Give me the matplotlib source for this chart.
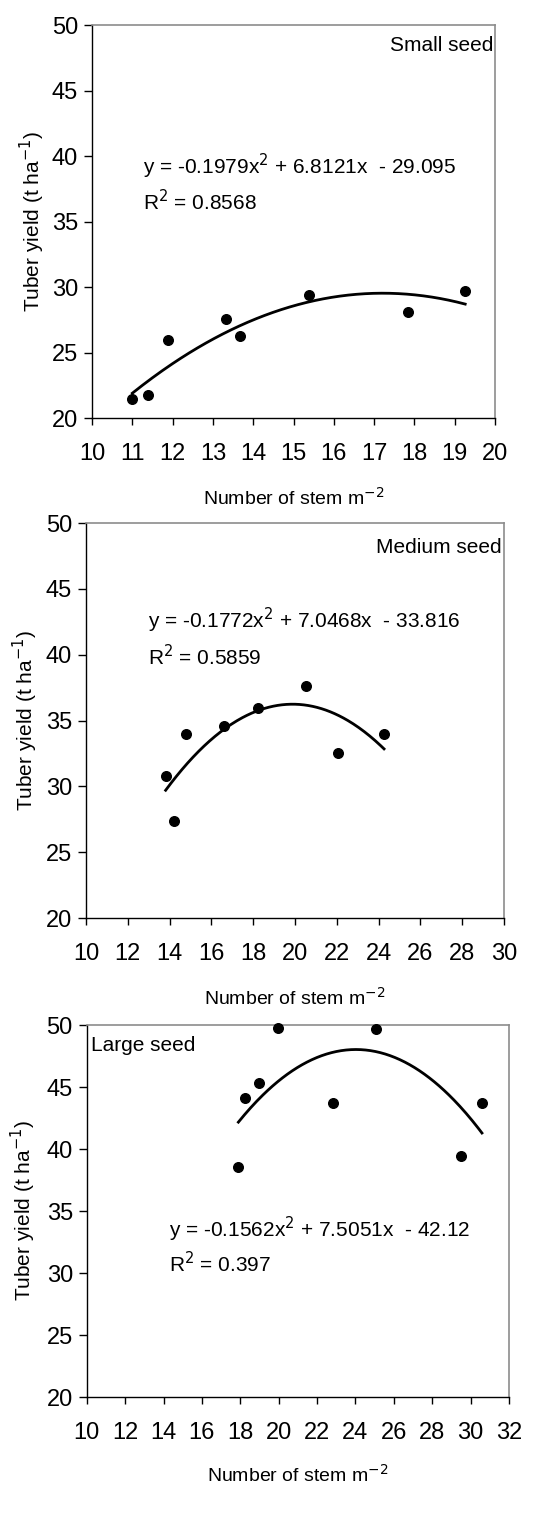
import numpy as np
import matplotlib
matplotlib.use("Agg")
import matplotlib.pyplot as plt

plt.rcParams['font.family'] = ['Liberation Sans', 'DejaVu Sans']

# ---- data ----
small_x = [11.0, 11.4, 11.88, 13.33, 13.68, 15.39, 17.84, 19.26]
small_y = [21.47, 21.78, 25.97, 27.55, 26.23, 29.41, 28.09, 29.71]
small_coef = [-0.1979, 6.8121, -29.095]
small_eq = "y = -0.1979x$^{2}$ + 6.8121x  - 29.095"
small_r2 = "R$^{2}$ = 0.8568"

medium_x = [13.81, 14.21, 14.77, 16.60, 18.21, 20.53, 22.07, 24.26]
medium_y = [30.76, 27.37, 34.0, 34.6, 35.92, 37.65, 32.53, 34.0]
medium_coef = [-0.1772, 7.0468, -33.816]
medium_eq = "y = -0.1772x$^{2}$ + 7.0468x  - 33.816"
medium_r2 = "R$^{2}$ = 0.5859"

large_x = [17.90, 18.26, 18.96, 19.97, 22.81, 25.05, 29.48, 30.59]
large_y = [38.56, 44.16, 45.34, 49.78, 43.73, 49.65, 39.45, 43.73]
large_coef = [-0.1562, 7.5051, -42.12]
large_eq = "y = -0.1562x$^{2}$ + 7.5051x  - 42.12"
large_r2 = "R$^{2}$ = 0.397"

panels = [
    dict(x=small_x, y=small_y, coef=small_coef, eq=small_eq, r2=small_r2,
         title="Small seed", xlim=(10, 20), xticks=np.arange(10, 21, 1),
         pos=[0.1655, 0.7259, 0.7248, 0.2577],
         title_xy=(0.995, 0.949), title_ha='right',
         eq_xy=(0.127, 0.639), r2_xy=(0.127, 0.55),
         xlab_y=-0.2036, ylab_x=-0.149),
    dict(x=medium_x, y=medium_y, coef=medium_coef, eq=medium_eq, r2=medium_r2,
         title="Medium seed", xlim=(10, 30), xticks=np.arange(10, 31, 2),
         pos=[0.1547, 0.398, 0.7518, 0.259],
         title_xy=(0.995, 0.939), title_ha='right',
         eq_xy=(0.149, 0.754), r2_xy=(0.149, 0.661),
         xlab_y=-0.2025, ylab_x=-0.146),
    dict(x=large_x, y=large_y, coef=large_coef, eq=large_eq, r2=large_r2,
         title="Large seed", xlim=(10, 32), xticks=np.arange(10, 33, 2),
         pos=[0.156, 0.0839, 0.7595, 0.2439],
         title_xy=(0.01, 0.944), title_ha='left',
         eq_xy=(0.195, 0.452), r2_xy=(0.195, 0.36),
         xlab_y=-0.2097, ylab_x=-0.151),
]

fig = plt.figure(figsize=(5.56, 15.25), dpi=100)

for p in panels:
    ax = fig.add_axes(p['pos'])
    xs = np.linspace(min(p['x']), max(p['x']), 200)
    ax.plot(xs, np.polyval(p['coef'], xs), color='black', lw=2.0, zorder=2)
    ax.scatter(p['x'], p['y'], s=48, color='black', zorder=3, clip_on=False)
    ax.set_xlim(*p['xlim'])
    ax.set_ylim(20, 50)
    ax.set_xticks(p['xticks'])
    ax.set_yticks(np.arange(20, 51, 5))
    ax.tick_params(axis='y', direction='out', length=6, width=1, pad=4, labelsize=17)
    ax.tick_params(axis='x', direction='out', length=5, width=1, pad=13, labelsize=17)
    for s in ['top', 'right']:
        ax.spines[s].set_color('#8c8c8c')
        ax.spines[s].set_linewidth(1.2)
    for s in ['left', 'bottom']:
        ax.spines[s].set_color('black')
        ax.spines[s].set_linewidth(1.0)
    ax.text(p['title_xy'][0], p['title_xy'][1], p['title'], transform=ax.transAxes,
            ha=p['title_ha'], va='center', fontsize=15)
    ax.text(p['eq_xy'][0], p['eq_xy'][1], p['eq'], transform=ax.transAxes,
            ha='left', va='center', fontsize=15)
    ax.text(p['r2_xy'][0], p['r2_xy'][1], p['r2'], transform=ax.transAxes,
            ha='left', va='center', fontsize=15)
    ax.text(0.5, p['xlab_y'], "Number of stem m$^{-2}$", transform=ax.transAxes,
            ha='center', va='center', fontsize=14)
    ax.text(p['ylab_x'], 0.5, "Tuber yield (t ha$^{-1}$)", transform=ax.transAxes,
            ha='center', va='center', rotation=90, fontsize=15)

fig.savefig("out.png", dpi=100)
